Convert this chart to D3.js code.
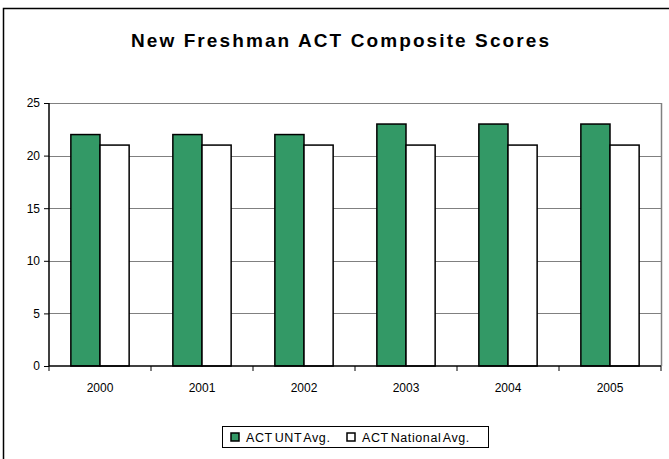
<!DOCTYPE html>
<html lang="en">
<head>
    <meta charset="UTF-8">
    <title>New Freshman ACT Composite Scores</title>
    <script src="https://d3js.org/d3.v7.min.js"></script>
    <style>
        body { margin: 0; background: #fff; }
        text { font-family: "Liberation Sans", Arial, sans-serif; fill: #000; }
    </style>
</head>
<body>
    <svg width="669" height="459" id="grafico"></svg>
    <script>

        // datos del grafico
        var years = ["2000", "2001", "2002", "2003", "2004", "2005"];
        var untAvg = [22, 22, 22, 23, 23, 23];
        var nationalAvg = [21, 21, 21, 21, 21, 21];
        var seriesNames = ["ACT UNT Avg.", "ACT National Avg."];
        var yTicks = [0, 5, 10, 15, 20, 25];

        var colors = ["#339966", "#ffffff"];

        var svg = d3.select("svg"),
            margin = { top: 103, right: 8, bottom: 93, left: 49 },
            width = +svg.attr("width") - margin.left - margin.right,
            height = +svg.attr("height") - margin.top - margin.bottom;

        // marco exterior
        svg.append("rect")
            .attr("x", 3.5).attr("y", 8.5)
            .attr("width", 670).attr("height", 460)
            .attr("fill", "#fff")
            .attr("stroke", "#000")
            .attr("stroke-width", 1.5);

        svg.append("text")
            .attr("x", 341).attr("y", 47)
            .attr("text-anchor", "middle")
            .style("font-size", "19px")
            .style("font-weight", "bold")
            .style("letter-spacing", "2.1px")
            .text("New Freshman ACT Composite Scores");

        var data = years.map(function (y, i) {
            return { year: y, values: [untAvg[i], nationalAvg[i]] };
        });

        var x = d3.scaleBand().domain(years).range([0, width]);
        var y = d3.scaleLinear().domain([0, 25]).range([height, 0]);

        // gap width 150% como en Excel
        var barW = x.bandwidth() / 3.5;
        var x1 = d3.scaleBand().domain([0, 1])
            .range([x.bandwidth() * 0.75 / 3.5, x.bandwidth() * 0.75 / 3.5 + 2 * barW]);

        var g = svg.append("g")
            .attr("transform", "translate(" + margin.left + "," + margin.top + ")");

        // lineas de la rejilla
        g.append("g")
            .selectAll("line")
            .data(yTicks.slice(1))
            .enter().append("line")
            .attr("x1", 0).attr("x2", width)
            .attr("y1", function (d) { return Math.round(y(d)) + 0.5; })
            .attr("y2", function (d) { return Math.round(y(d)) + 0.5; })
            .attr("stroke", "#808080")
            .attr("stroke-width", 1.2);

        // borde derecho
        g.append("line")
            .attr("x1", width + 0.5).attr("x2", width + 0.5)
            .attr("y1", 0).attr("y2", height)
            .attr("stroke", "#808080").attr("stroke-width", 1.5);

        // barras
        g.append("g")
            .selectAll("g")
            .data(data)
            .enter().append("g")
            .attr("transform", function (d) { return "translate(" + x(d.year) + ",0)"; })
            .selectAll("rect")
            .data(function (d) { return d.values.map(function (v, i) { return { i: i, v: v }; }); })
            .enter().append("rect")
            .attr("x", function (d) { return x1(d.i); })
            .attr("y", function (d) { return y(d.v); })
            .attr("width", barW)
            .attr("height", function (d) { return height - y(d.v); })
            .attr("fill", function (d) { return colors[d.i]; })
            .attr("stroke", "#000")
            .attr("stroke-width", 1.5);

        // ejes
        var yAxis = d3.axisLeft(y).tickValues(yTicks).tickSize(5).tickPadding(4);
        g.append("g")
            .attr("class", "axis axis--y")
            .call(yAxis)
            .call(function (s) {
                s.select(".domain").attr("stroke", "#000").attr("stroke-width", 1.5).attr("d", "M0," + height + "V0");
                s.selectAll(".tick line").attr("stroke", "#000");
                s.selectAll("text").style("font-size", "12px").attr("font-family", null);
            });

        var xAxis = d3.axisBottom(x).tickSize(0).tickPadding(17);
        g.append("g")
            .attr("class", "axis axis--x")
            .attr("transform", "translate(0," + height + ")")
            .call(xAxis)
            .call(function (s) {
                s.select(".domain").attr("stroke", "#000").attr("stroke-width", 1.5).attr("d", "M0,0H" + width);
                s.selectAll("text").style("font-size", "12px").attr("font-family", null);
            });

        // marcas entre categorias
        g.append("g")
            .selectAll("line")
            .data(d3.range(years.length + 1))
            .enter().append("line")
            .attr("x1", function (i) { return i * x.step(); })
            .attr("x2", function (i) { return i * x.step(); })
            .attr("y1", height).attr("y2", height + 5)
            .attr("stroke", "#000");

        // leyenda
        var legend = svg.append("g").attr("transform", "translate(222,426)");
        legend.append("rect")
            .attr("x", 0.5).attr("y", 0.5)
            .attr("width", 266).attr("height", 21)
            .attr("fill", "#fff").attr("stroke", "#000");

        var legX = [9, 125];
        seriesNames.forEach(function (name, i) {
            legend.append("rect")
                .attr("x", legX[i]).attr("y", 7)
                .attr("width", 8).attr("height", 8)
                .attr("fill", colors[i])
                .attr("stroke", "#000").attr("stroke-width", 1.5);
            legend.append("text")
                .attr("x", legX[i] + 15).attr("y", 15.5)
                .style("font-size", "12.5px")
                .style("letter-spacing", "0.6px")
                .style("word-spacing", "-2px")
                .text(name);
        });

    </script>
</body>
</html>
